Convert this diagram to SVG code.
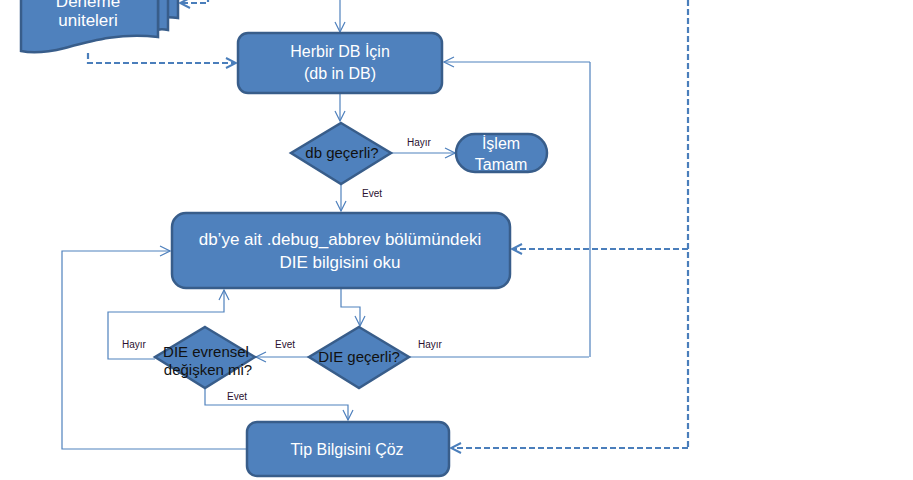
<svg xmlns="http://www.w3.org/2000/svg" width="913" height="480" viewBox="0 0 913 480">
<style>
.node{fill:#4F81BD;stroke:#385D8A;stroke-width:2.5}
.wt{fill:#FFFFFF;font-family:"Liberation Sans",Arial,sans-serif;font-size:16px;text-anchor:middle}
.bt{fill:#111111;font-family:"Liberation Sans",Arial,sans-serif;font-size:15px;text-anchor:middle}
.lbl{fill:#2A1030;font-family:"Liberation Sans",Arial,sans-serif;font-size:10px;text-anchor:middle}
.c{fill:none;stroke:#4F81BD;stroke-width:1.2}
.cl{fill:none;stroke:#95B3D7;stroke-width:2}
.d{fill:none;stroke:#4A7EBB;stroke-width:2.2;stroke-dasharray:6,3}
</style>
<defs>
<marker id="a" viewBox="0 0 12 12" refX="11" refY="6" markerWidth="12" markerHeight="12" markerUnits="userSpaceOnUse" orient="auto">
<path d="M1,1 L11,6 L1,11" fill="none" stroke="#4F81BD" stroke-width="1.2"/>
</marker>
<marker id="ad" viewBox="0 0 12 12" refX="11" refY="6" markerWidth="12" markerHeight="12" markerUnits="userSpaceOnUse" orient="auto">
<path d="M1,1 L11,6 L1,11" fill="none" stroke="#4A7EBB" stroke-width="2"/>
</marker>
</defs>
<g id="connectors">
<path class="c" d="M340,0 V32" marker-end="url(#a)"/>
<path class="c" d="M340,93 V121" marker-end="url(#a)"/>
<path class="c" d="M391,153 H455" marker-end="url(#a)"/>
<path class="c" d="M341,184 V211" marker-end="url(#a)"/>
<path class="c" d="M341,289 V307 H360 V326" marker-end="url(#a)"/>
<path class="c" d="M309,357 H256" marker-end="url(#a)"/>
<path class="c" d="M409,357 H589"/>
<path class="cl" d="M590,357 V62"/>
<path class="c" d="M590,62 H444" marker-end="url(#a)"/>
<path class="c" d="M155,359 H108 V312 H224 V290" marker-end="url(#a)"/>
<path class="c" d="M205,388 V405 H348 V420" marker-end="url(#a)"/>
<path class="c" d="M246,449 H62 V251 H170" marker-end="url(#a)"/>
<path class="d" d="M688,0 V448"/>
<path class="d" d="M688,249 H512" marker-end="url(#ad)"/>
<path class="d" d="M688,448 H451" marker-end="url(#ad)"/>
<path class="d" d="M208,-4 V3 H180" marker-end="url(#ad)"/>
<path class="d" d="M88,53 V63 H236" marker-end="url(#ad)"/>
</g>
<g id="deneme">
<path class="node" d="M41,-40 H178 V18 C165,16 160,18 158,19 L158,-40 Z"/>
<path class="node" d="M31,-40 H168 V30 C163,29 160,29 158,30 L158,-40 Z"/>
<path class="node" d="M21,-40 H158 V37 C120,33 95,40 65,48 C45,53 30,53 21,51 Z"/>
<text class="wt" x="88" y="7" style="font-size:17px">Deneme</text>
<text class="wt" x="88" y="26" style="font-size:17px">uniteleri</text>
</g>
<g id="herbir">
<rect class="node" x="238" y="33" width="204" height="60" rx="10"/>
<text class="wt" x="340" y="57">Herbir DB İçin</text>
<text class="wt" x="340" y="79">(db in DB)</text>
</g>
<g id="dbgecerli">
<polygon class="node" points="341,123 391,153 341,184 291,153"/>
<text class="bt" x="342" y="158">db  geçerli?</text>
</g>
<g id="islemtamam">
<rect class="node" x="456" y="134" width="91" height="38" rx="19"/>
<text class="wt" x="501" y="149">İşlem</text>
<text class="wt" x="501" y="170">Tamam</text>
</g>
<g id="oku">
<rect class="node" x="172" y="213" width="338" height="75" rx="14"/>
<text class="wt" x="340" y="245" style="font-size:17px">db’ye ait .debug_abbrev  bölümündeki</text>
<text class="wt" x="340" y="268" style="font-size:17px">DIE bilgisini oku</text>
</g>
<g id="diegecerli">
<polygon class="node" points="359,327 409,357 359,388 309,357"/>
<text class="bt" x="359" y="362">DIE geçerli?</text>
</g>
<g id="evrensel">
<polygon class="node" points="205,327 255,357 205,388 155,357"/>
<text class="bt" x="206" y="357">DIE evrensel</text>
<text class="bt" x="208" y="375">değişken mi?</text>
</g>
<g id="tip">
<rect class="node" x="247" y="422" width="202" height="54" rx="10"/>
<text class="wt" x="347" y="455">Tip Bilgisini  Çöz</text>
</g>
<g id="labels">
<text class="lbl" x="419" y="146">Hayır</text>
<text class="lbl" x="372" y="197">Evet</text>
<text class="lbl" x="285" y="348">Evet</text>
<text class="lbl" x="430" y="348">Hayır</text>
<text class="lbl" x="134" y="348">Hayır</text>
<text class="lbl" x="237" y="400">Evet</text>
</g>
</svg>
